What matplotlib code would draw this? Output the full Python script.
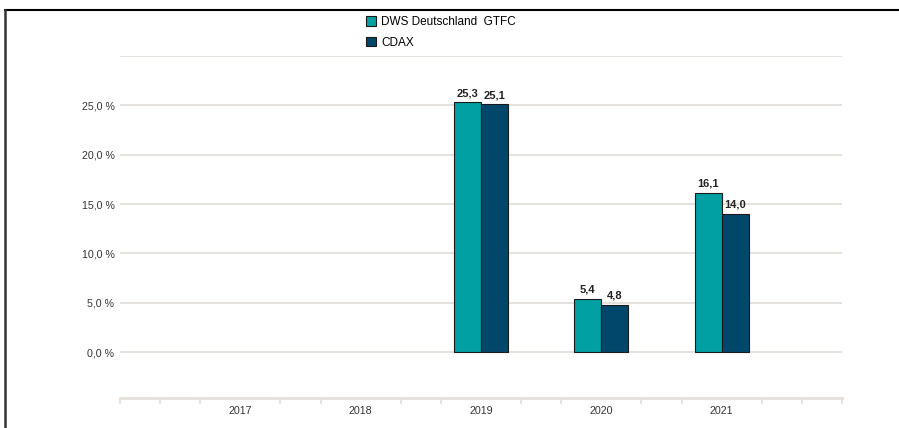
import matplotlib.pyplot as plt
import numpy as np
from matplotlib.lines import Line2D

plt.rcParams['font.family'] = ['Liberation Sans', 'DejaVu Sans']

years = ["2017", "2018", "2019", "2020", "2021"]
fund = [np.nan, np.nan, 25.3, 5.4, 16.1]
cdax = [np.nan, np.nan, 25.1, 4.8, 14.0]
series_names = ["DWS Deutschland  GTFC", "CDAX"]

TEAL = "#00a0a3"
NAVY = "#00476b"
GRID = "#e3dfda"
W = 0.225

fig = plt.figure(figsize=(8.99, 4.28), dpi=100)
ax = fig.add_axes([120 / 899, 1 - 398 / 428, 722 / 899, 342 / 428])

x = np.arange(len(years))
b1 = ax.bar(x - W / 2, fund, W, color=TEAL, edgecolor="#1a1a1a", linewidth=0.8, zorder=3)
b2 = ax.bar(x + W / 2, cdax, W, color=NAVY, edgecolor="#1a1a1a", linewidth=0.8, zorder=3)

for bars, vals in ((b1, fund), (b2, cdax)):
    for r, v in zip(bars, vals):
        if np.isnan(v):
            continue
        ax.annotate(f"{v:.1f}".replace(".", ","), (r.get_x() + r.get_width() / 2, v),
                    xytext=(0, 3), textcoords="offset points", ha="center", va="bottom",
                    fontsize=8, fontweight="bold", color="#222222")

ax.set_xlim(-1, 5)
ax.set_ylim(-4.66, 30)

# horizontal grid
for yv in range(0, 31, 5):
    ax.axhline(yv, color=GRID, lw=1.3, zorder=1)

yt = list(range(0, 26, 5))
ax.set_yticks(yt)
ax.set_yticklabels([f"{v:.1f} %".replace(".", ",") for v in yt], fontsize=7.7, color="#333333")
ax.tick_params(axis="y", length=0, pad=4)

# minor ticks every third, labels at category centers
ax.set_xticks(x)
ax.set_xticklabels(years, fontsize=7.7, color="#333333")
ax.tick_params(axis="x", length=0, pad=6)
minor = [-1 + k / 3 for k in range(19) if abs((-1 + k / 3) - round(-1 + k / 3)) > 1e-6 or k in (0, 18)]
ax.set_xticks(minor, minor=True)
ax.tick_params(axis="x", which="minor", length=4, width=1.2, color=GRID, direction="out")

for s in ("top", "right", "left"):
    ax.spines[s].set_visible(False)
ax.spines["bottom"].set_color(GRID)
ax.spines["bottom"].set_linewidth(2)

fig.legend([b1, b2], series_names, loc="upper left",
           bbox_to_anchor=(366 / 899, 1 - 16 / 428), frameon=False, fontsize=8.5,
           handlelength=0.85, handleheight=0.85, handletextpad=0.45, labelspacing=0.75,
           borderaxespad=0, borderpad=0)

# outer frame lines
fig.add_artist(Line2D([4.5 / 899, 1], [1 - 10 / 428, 1 - 10 / 428], color="black", lw=1.5))
fig.add_artist(Line2D([4.5 / 899, 4.5 / 899], [0, 1 - 10 / 428], color="#333333", lw=1.8))

fig.savefig("out.png", dpi=100)
